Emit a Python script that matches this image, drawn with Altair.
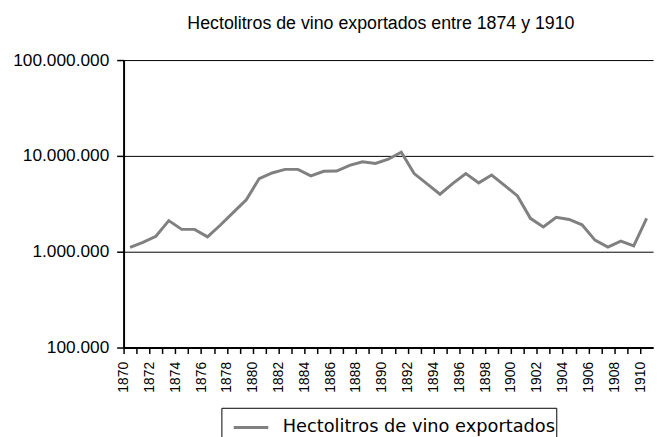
import altair as alt
import pandas as pd

years = list(range(1870, 1911))
values = [1110000, 1250000, 1450000, 2110000, 1710000, 1710000, 1430000, 1900000, 2570000, 3480000,
          5800000, 6630000, 7230000, 7230000, 6180000, 6900000, 6950000, 7950000, 8680000, 8340000,
          9230000, 10900000, 6530000, 5110000, 3980000, 5160000, 6530000, 5230000, 6320000, 4920000,
          3820000, 2230000, 1810000, 2290000, 2170000, 1910000, 1320000, 1120000, 1290000, 1150000,
          2230000]
series_name = "Hectolitros de vino exportados"
title_text = "Hectolitros de vino exportados entre 1874 y 1910"
y_ticks = [100000, 1000000, 10000000, 100000000]
x_tick_years = years + [1911]

df = pd.DataFrame({"year": years, "value": values, "serie": [series_name] * len(years)})

FONT = "Liberation Sans"
LEG_FONT = "DejaVu Sans"
cat_w = 536 / 41.0

chart = alt.Chart(df).mark_line(strokeWidth=3).encode(
    x=alt.X("year:Q",
            scale=alt.Scale(domain=[1869.5, 1910.5], nice=False, zero=False),
            axis=alt.Axis(values=x_tick_years, format="d", title=None, grid=False,
                          labelExpr="datum.value % 2 == 0 && datum.value <= 1910 ? datum.label : ''",
                          labelAngle=270, labelFontSize=14, labelFont=FONT, labelColor="black",
                          labelPadding=8, labelOverlap=False, labelFlush=False,
                          tickOffset=-cat_w / 2,
                          domainColor="black", domainWidth=2, tickColor="black",
                          tickSize=6, tickWidth=1.5)),
    y=alt.Y("value:Q",
            scale=alt.Scale(type="log", domain=[100000, 100000000], nice=False),
            axis=alt.Axis(values=y_ticks, title=None, grid=True, gridColor="black",
                          gridWidth=1, gridOpacity=1,
                          labelExpr="replace(format(datum.value, ','), /,/g, '.')",
                          labelFontSize=17.5, labelFont=FONT, labelColor="black",
                          labelPadding=8, domainColor="black", domainWidth=2,
                          tickColor="black", tickSize=7, tickWidth=1.5)),
    color=alt.Color("serie:N",
                    scale=alt.Scale(domain=[series_name], range=["#808080"]),
                    legend=alt.Legend(title=None, orient="none", legendX=99, legendY=352,
                                      symbolType="stroke", symbolSize=1225, symbolStrokeWidth=3,
                                      symbolOffset=10,
                                      labelFontSize=18, labelFont=LEG_FONT, labelColor="black",
                                      labelOffset=13, padding=1, strokeColor="black",
                                      fillColor="white", labelLimit=500))
).properties(
    width=536,
    height=291,
    title=alt.TitleParams(title_text, fontSize=18, font=FONT, fontWeight="normal",
                          color="black", anchor="middle", dx=-7.5, offset=18),
    autosize=alt.AutoSizeParams(type="none"),
    padding={"left": 117, "top": 50, "right": 7, "bottom": 100},
).configure_view(strokeWidth=0)

chart.save("out.html", embed_options={"renderer": "svg", "actions": False})
